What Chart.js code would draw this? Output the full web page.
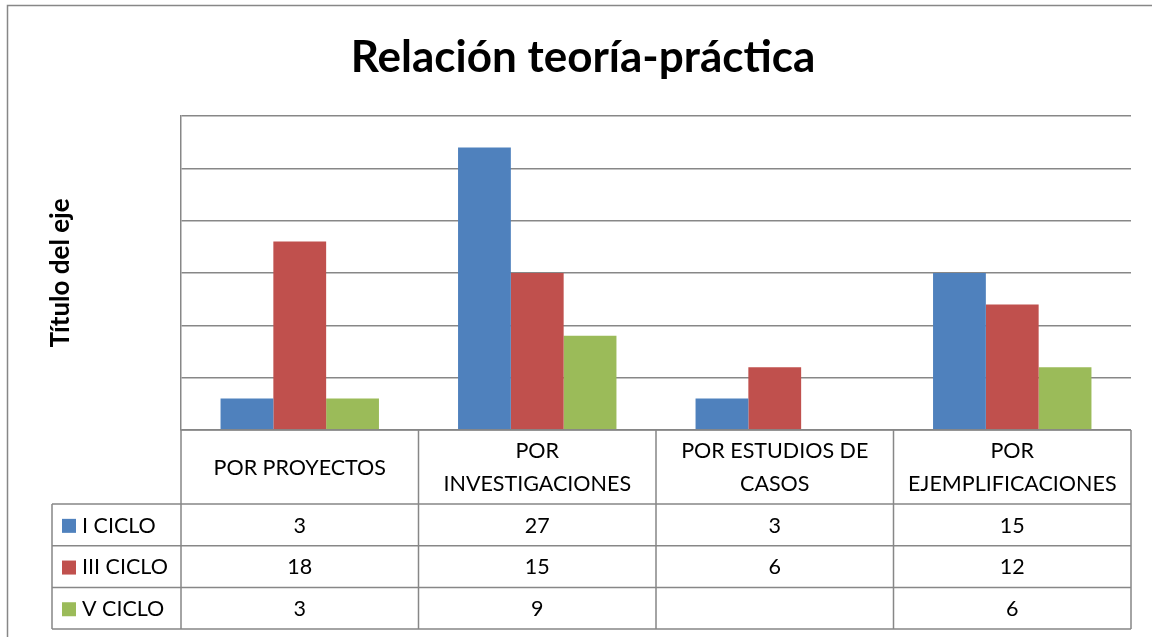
<!DOCTYPE html>
<html>
<head>
<meta charset="utf-8">
<script src="https://cdn.jsdelivr.net/npm/chart.js@4.4.1/dist/chart.umd.min.js"></script>
<style>
html,body{margin:0;padding:0;background:#fff;}
#wrap{width:1152px;height:637px;position:relative;}
</style>
</head>
<body>
<div id="wrap"><canvas id="c" width="1152" height="637"></canvas></div>
<script>
const categories = [["POR PROYECTOS"], ["POR", "INVESTIGACIONES"], ["POR ESTUDIOS DE", "CASOS"], ["POR", "EJEMPLIFICACIONES"]];
const seriesNames = ["I CICLO", "III CICLO", "V CICLO"];
const iCiclo = [3, 27, 3, 15];
const iiiCiclo = [18, 15, 6, 12];
const vCiclo = [3, 9, null, 6];
const colors = ["#4F81BD", "#C0504D", "#9BBB59"];
const titleText = "Relación teoría-práctica";
const yTitle = "Título del eje";

const FONT = "Lato, 'Open Sans', sans-serif";
const LINE = "#878787";

const tablePlugin = {
  id: 'tablePlugin',
  afterDraw(chart) {
    const ctx = chart.ctx;
    const area = chart.chartArea;
    const x = chart.scales.x;
    const n = categories.length;
    const bounds = [area.left];
    for (let i = 1; i < n; i++) bounds.push((x.getPixelForValue(i - 1) + x.getPixelForValue(i)) / 2);
    bounds.push(area.right);
    const top = area.bottom;
    const headerH = 74;
    const rowH = 41.7;
    const legLeft = 52;
    const rowsTop = top + headerH;
    const bottom = rowsTop + rowH * 3;
    ctx.save();
    // outer chart border
    ctx.strokeStyle = LINE;
    ctx.lineWidth = 1.5;
    ctx.strokeRect(7.5, 5.5, 1300, 800);
    // chart title
    ctx.fillStyle = "#000";
    ctx.font = "bold 44px " + FONT;
    ctx.textAlign = "center";
    ctx.textBaseline = "alphabetic";
    ctx.fillText(titleText, 583, 72);
    // grid of table
    ctx.beginPath();
    bounds.forEach(b => { ctx.moveTo(b, top); ctx.lineTo(b, bottom); });
    ctx.moveTo(legLeft, rowsTop); ctx.lineTo(legLeft, bottom);
    ctx.moveTo(area.left, top); ctx.lineTo(area.right, top);
    for (let r = 0; r <= 3; r++) {
      const yy = rowsTop + r * rowH;
      ctx.moveTo(legLeft, yy); ctx.lineTo(area.right, yy);
    }
    ctx.stroke();
    // header text
    ctx.fillStyle = "#000";
    ctx.font = "21.5px " + FONT;
    ctx.textAlign = "center";
    ctx.textBaseline = "middle";
    categories.forEach((lines, i) => {
      const cx = (bounds[i] + bounds[i + 1]) / 2;
      const cy = top + headerH / 2 + 1;
      const lh = 33;
      lines.forEach((t, k) => {
        ctx.fillText(t, cx, cy + (k - (lines.length - 1) / 2) * lh);
      });
    });
    // rows
    const data = [iCiclo, iiiCiclo, vCiclo];
    data.forEach((vals, r) => {
      const cy = rowsTop + r * rowH + rowH / 2 + 1;
      ctx.fillStyle = colors[r];
      ctx.fillRect(62, cy - 7, 14, 14);
      ctx.fillStyle = "#000";
      ctx.textAlign = "left";
      ctx.fillText(seriesNames[r], 82, cy);
      ctx.textAlign = "center";
      vals.forEach((v, i) => {
        if (v === null || v === undefined) return;
        ctx.fillText(String(v), (bounds[i] + bounds[i + 1]) / 2, cy);
      });
    });
    ctx.restore();
  }
};

new Chart(document.getElementById('c'), {
  type: 'bar',
  data: {
    labels: categories.map(c => c.join(' ')),
    datasets: seriesNames.map((name, i) => ({
      label: name,
      data: [iCiclo, iiiCiclo, vCiclo][i],
      backgroundColor: colors[i],
      borderWidth: 0,
      categoryPercentage: 0.667,
      barPercentage: 1.0
    }))
  },
  options: {
    responsive: false,
    animation: false,
    devicePixelRatio: 1,
    layout: { padding: { left: 0, right: 21, top: 116, bottom: 0 } },
    plugins: {
      legend: { display: false },
      tooltip: { enabled: false },
      title: { display: false }
    },
    scales: {
      x: {
        grid: { display: false },
        border: { display: false },
        ticks: { display: false },
        afterFit(scale) { scale.height = 207; }
      },
      y: {
        min: 0, max: 30,
        ticks: { display: false, stepSize: 5 },
        grid: { color: LINE, lineWidth: 1.5, drawTicks: false },
        border: { display: true, color: LINE, width: 1.5 },
        title: {
          display: true,
          text: yTitle,
          color: "#000",
          font: { family: FONT, size: 26, weight: 'bold', lineHeight: 1.2 },
          padding: { top: 45, bottom: 0 }
        },
        afterFit(scale) { scale.width = 181; }
      }
    }
  },
  plugins: [tablePlugin]
});
</script>
</body>
</html>
